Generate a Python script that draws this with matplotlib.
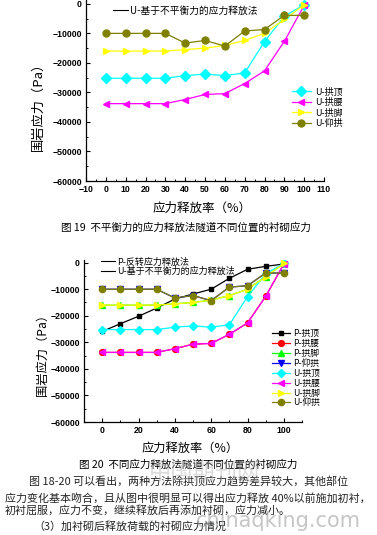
import matplotlib
matplotlib.use("Agg")
import matplotlib.pyplot as plt
from matplotlib.lines import Line2D
from matplotlib.ticker import MultipleLocator

plt.rcParams['font.family'] = ['Noto Sans CJK SC', 'DejaVu Sans']

# release ratio (%)
x = [0, 10, 20, 30, 40, 50, 60, 70, 80, 90, 100]

# U - unbalanced force method
u_top = [-25200, -25200, -25200, -25200, -24300, -23800, -24300, -23400, -12800, -4200, -300]
u_waist = [-33800, -33800, -33800, -33800, -32400, -30700, -30400, -27000, -22700, -12700, -500]
u_foot = [-16000, -16000, -16000, -16000, -15500, -15000, -14100, -12400, -10000, -5300, -300]
u_invert = [-10000, -10000, -10000, -10000, -13300, -12400, -14300, -9200, -8700, -3900, -3900]

# P - reversed stress release method
p_top = [-25900, -23000, -20200, -17100, -13700, -11800, -10000, -5900, -2500, -1400, -500]
p_waist = u_waist
p_foot = u_foot
p_invert = u_invert

u_labels = ['U-拱顶', 'U-拱腰', 'U-拱脚', 'U-仰拱']
p_labels = ['P-拱顶', 'P-拱腰', 'P-拱脚', 'P-仰拱']

u_styles = [('#00ffff', 'D'), ('#ff00ff', '<'), ('#ffff00', '>'), ('#808000', 'o')]
p_styles = [('#000000', 's'), ('#ff0000', 'o'), ('#00ff00', '^'), ('#0000ff', 'v')]

W, H = 377, 535
fig = plt.figure(figsize=(W / 100, H / 100), dpi=100)

tick_font = dict(family='Liberation Sans', size=6.3, weight='bold')


def box(l, t, r, b):
    return [l / W, 1 - b / H, (r - l) / W, (b - t) / H]


def style_axes(ax, xmajor, xminor):
    ax.spines['top'].set_visible(False)
    ax.spines['right'].set_visible(False)
    for s in ['left', 'bottom']:
        ax.spines[s].set_linewidth(0.9)
    ax.xaxis.set_major_locator(MultipleLocator(xmajor))
    ax.xaxis.set_minor_locator(MultipleLocator(xminor))
    ax.yaxis.set_major_locator(MultipleLocator(10000))
    ax.yaxis.set_minor_locator(MultipleLocator(5000))
    ax.tick_params(which='major', direction='in', length=3, width=0.8, pad=3)
    ax.tick_params(which='minor', direction='in', length=1.6, width=0.7)
    for lab in ax.get_xticklabels() + ax.get_yticklabels():
        lab.set_fontproperties(tick_font)


# ---------- chart 19 ----------
ax1 = fig.add_axes(box(86, 0, 324, 181))
ax1.set_xlim(-10, 110)
ax1.set_ylim(-60000, 1300)
handles1 = []
for ys, lab, (c, m) in zip([u_top, u_waist, u_foot, u_invert], u_labels, u_styles):
    h, = ax1.plot(x, ys, color=c, marker=m, markersize=5, linewidth=0.9, label=lab)
    handles1.append(h)
ax1.set_xticks(range(-10, 111, 10))
style_axes(ax1, 10, 5)

leg1 = ax1.legend(handles=handles1, loc='upper left', bbox_to_anchor=(287 / W, 1 - 83 / H),
                  bbox_transform=fig.transFigure, frameon=False, fontsize=6.5,
                  handlelength=2.2, handletextpad=0.4, labelspacing=0.15, borderpad=0)
ax1.add_artist(leg1)
ax1.legend(handles=[Line2D([], [], color='black', linewidth=0.8)],
           labels=['U-基于不平衡力的应力释放法'], loc='upper left',
           bbox_to_anchor=(108 / W, 1 - 1 / H), bbox_transform=fig.transFigure,
           frameon=False, fontsize=7, handlelength=1.6, handletextpad=0.2, borderpad=0)

fig.text(38 / W, 1 - 103 / H, '围岩应力（Pa）', rotation=90, ha='center', va='center', fontsize=9.5)
fig.text(202 / W, 1 - 208 / H, '应力释放率（%）', ha='center', va='center', fontsize=9)
fig.text(186 / W, 1 - 228 / H, '图 19  不平衡力的应力释放法隧道不同位置的衬砌应力',
         ha='center', va='center', fontsize=7.6)

# ---------- chart 20 ----------
ax2 = fig.add_axes(box(84, 260, 302, 422))
ax2.set_xlim(-10, 110)
ax2.set_ylim(-60000, 1000)
handles2 = []
for ys, lab, (c, m) in zip([p_top, p_waist, p_foot, p_invert], p_labels, p_styles):
    ms = 2.6 if m == 's' else 4.2
    h, = ax2.plot(x, ys, color=c, marker=m, markersize=ms, linewidth=0.9, label=lab)
    handles2.append(h)
for ys, lab, (c, m) in zip([u_top, u_waist, u_foot, u_invert], u_labels, u_styles):
    h, = ax2.plot(x, ys, color=c, marker=m, markersize=4.5, linewidth=0.9, label=lab)
    handles2.append(h)
ax2.set_xticks(range(0, 101, 20))
style_axes(ax2, 20, 10)

leg2 = ax2.legend(handles=handles2, loc='upper left', bbox_to_anchor=(268 / W, 1 - 325 / H),
                  bbox_transform=fig.transFigure, frameon=False, fontsize=6.3,
                  handlelength=2.0, handletextpad=0.4, labelspacing=0.1, borderpad=0)
ax2.add_artist(leg2)
ax2.legend(handles=[Line2D([], [], color='black', linewidth=0.8),
                    Line2D([], [], color='black', linewidth=0.8)],
           labels=['P-反转应力释放法', 'U-基于不平衡力的应力释放法'], loc='upper left',
           bbox_to_anchor=(96 / W, 1 - 253 / H), bbox_transform=fig.transFigure,
           frameon=False, fontsize=6.5, handlelength=1.6, handletextpad=0.2,
           labelspacing=0.05, borderpad=0)

fig.text(42 / W, 1 - 352 / H, '围岩应力（Pa）', rotation=90, ha='center', va='center', fontsize=8.8)
fig.text(190 / W, 1 - 448 / H, '应力释放率（%）', ha='center', va='center', fontsize=8.8)
fig.text(188 / W, 1 - 465 / H, '图 20  不同应力释放法隧道不同位置的衬砌应力',
         ha='center', va='center', fontsize=7.6)

# ---------- body text ----------
body = [
    (29, 481, '图 18-20 可以看出，两种方法除拱顶应力趋势差异较大，其他部位'),
    (5, 498, '应力变化基本吻合，且从图中很明显可以得出应力释放 40%以前施加初衬，'),
    (5, 510, '初衬屈服，应力不变，继续释放后再添加衬砌，应力减小。'),
    (33, 526, '（3）加衬砌后释放荷载的衬砌应力情况'),
]
for bx, by, txt in body:
    fig.text(bx / W, 1 - by / H, txt, ha='left', va='center', fontsize=7.9, color='#222222')

# watermark
fig.text(205 / W, 1 - 472 / H, '中国期刊网', ha='center', va='center', fontsize=16,
         color='#b0b0b0', alpha=0.45)
fig.text(196 / W, 1 - 521 / H, 'chinaqking.com', ha='left', va='center', fontsize=15,
         family='DejaVu Sans', color='#a0a0a0', alpha=0.6)

fig.savefig('out.png', dpi=100)
